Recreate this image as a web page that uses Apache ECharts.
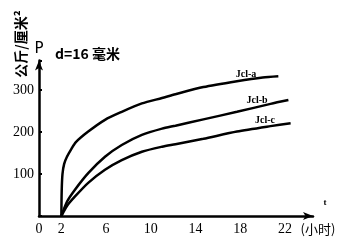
<!DOCTYPE html>
<html><head><meta charset="utf-8">
<script src="https://cdn.jsdelivr.net/npm/echarts@6/dist/echarts.min.js"></script>
<style>html,body{margin:0;padding:0;background:#fff}#c{width:346px;height:242px}</style>
</head><body><div id="c"></div>
<script>
var xTickLabels = [0, 2, 6, 10, 14, 18, 22];
var yTickLabels = [100, 200, 300];
var seriesNames = ['Jcl-a', 'Jcl-b', 'Jcl-c'];
var tA = [2, 2.03, 2.1, 2.25, 2.5, 2.9, 3.3, 4.4, 5.9, 7.4, 9.2, 11, 12.2, 14.7, 17.7, 20, 21.4];
var pA = [0, 60, 100, 124, 141, 160, 176, 201, 229, 248, 268, 281, 290, 307, 321, 330, 333];
var tB = [2, 2.5, 3.2, 4.4, 5.9, 7.4, 9.2, 11, 12.2, 14.7, 17.7, 20.7, 22.3];
var pB = [0, 34, 62, 102, 141, 169, 193, 208, 215, 230, 248, 267, 276];
var tC = [2, 2.5, 3.2, 4.4, 5.9, 7.4, 9.2, 11, 12.2, 14.7, 17.7, 20.7, 22.5];
var pC = [0, 24, 46, 79, 110, 133, 153, 165, 171, 184, 201, 214, 221];

function pairs(t, p) { return t.map(function (v, i) { return [v, p[i]]; }); }
var chart = echarts.init(document.getElementById('c'));
var serif = 'Liberation Serif';
function mk(name, t, p) {
  return { name: name, type: 'line', smooth: 0.25, symbol: 'none', data: pairs(t, p),
    lineStyle: { color: '#000', width: 2.5 } };
}
chart.setOption({
  animation: false,
  grid: { left: 39, right: 33, top: 60.6, bottom: 26 },
  xAxis: {
    type: 'value', min: 0, max: 24.5, interval: 2,
    axisLine: { lineStyle: { color: '#000', width: 2.5 }, symbol: ['none', 'arrow'], symbolSize: [6, 10] },
    axisTick: { show: false },
    splitLine: { show: false },
    axisLabel: { color: '#000', fontFamily: serif, fontSize: 14, margin: 6,
      formatter: function (v) { return xTickLabels.indexOf(v) >= 0 ? String(v) : ''; } }
  },
  yAxis: {
    type: 'value', min: 0, max: 370, interval: 100,
    name: 'P', nameGap: 4, nameTextStyle: { color: '#000', fontFamily: 'DejaVu Sans', fontSize: 15 },
    axisLine: { lineStyle: { color: '#000', width: 2.5 }, symbol: ['none', 'arrow'], symbolSize: [6, 10] },
    axisTick: { show: true, inside: true, length: 3, lineStyle: { color: '#000', width: 2 } },
    splitLine: { show: false },
    axisLabel: { color: '#000', fontFamily: serif, fontSize: 14, margin: 5,
      formatter: function (v) { return yTickLabels.indexOf(v) >= 0 ? String(v) : ''; } }
  },
  graphic: [
    { type: 'text', left: 55, top: 47, style: { text: 'd=16 毫米', font: 'bold 14px "Noto Sans CJK SC"', fill: '#000' } },
    { type: 'text', x: 21, y: 44, rotation: Math.PI / 2,
      style: { text: '公斤/厘米²', font: 'bold 14px "Noto Sans CJK SC"', fill: '#000', align: 'center', verticalAlign: 'middle' } },
    { type: 'text', x: 246, y: 74, style: { text: seriesNames[0], font: 'bold 10px "Liberation Serif"', fill: '#000', align: 'center', verticalAlign: 'middle' } },
    { type: 'text', x: 257, y: 100, style: { text: seriesNames[1], font: 'bold 10px "Liberation Serif"', fill: '#000', align: 'center', verticalAlign: 'middle' } },
    { type: 'text', x: 265, y: 120, style: { text: seriesNames[2], font: 'bold 10px "Liberation Serif"', fill: '#000', align: 'center', verticalAlign: 'middle' } },
    { type: 'text', x: 325, y: 203, style: { text: 't', font: 'bold 9px "Liberation Serif"', fill: '#000', align: 'center', verticalAlign: 'middle' } },
    { type: 'text', x: 318, y: 229, style: { text: '(小时)', font: '13px "Noto Sans CJK SC"', fill: '#000', align: 'center', verticalAlign: 'middle' } }
  ],
  series: [mk(seriesNames[0], tA, pA), mk(seriesNames[1], tB, pB), mk(seriesNames[2], tC, pC)]
});
</script></body></html>
